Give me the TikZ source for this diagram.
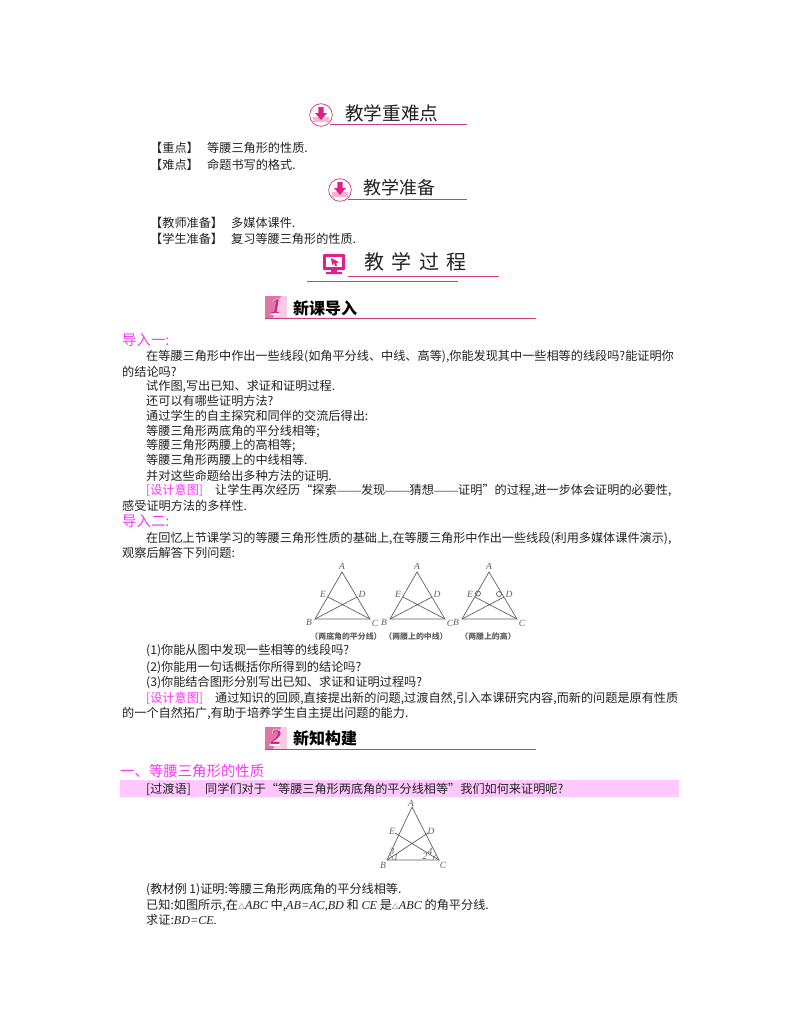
\documentclass[tikz,border=0pt]{standalone}
\usepackage{fontspec}
\setmainfont{Noto Sans CJK SC}
\newfontfamily\latinfam{Liberation Serif}
\usetikzlibrary{arrows.meta}
\definecolor{rulepink}{HTML}{D03A80}
\definecolor{iconpink}{HTML}{E0208A}
\definecolor{softpink}{HTML}{F6B5D3}
\definecolor{headpink}{HTML}{FF33FF}
\definecolor{bandpink}{HTML}{FFC8FF}
\definecolor{inktext}{HTML}{222222}
\definecolor{figgrey}{HTML}{606060}
\newcommand{\itx}[1]{{\latinfam\itshape #1}}
\newcommand{\trisym}{{\fontsize{7}{7}\selectfont △}}
\newcommand{\ldash}{{\latinfam ——}}
\tikzset{
bodytext/.style={anchor=base west,inner sep=0pt,text=inktext,font=\fontsize{12.15}{14}\selectfont},
pinkhead/.style={anchor=base west,inner sep=0pt,text=headpink,font=\fontsize{14.4}{16}\selectfont},
pinktext/.style={bodytext,text=headpink},
headrule/.style={draw=rulepink,line width=.9pt},
figline/.style={draw=figgrey,line width=.7pt},
figlabel/.style={inner sep=0pt,text=figgrey,font=\latinfam\itshape\fontsize{9.5}{10}\selectfont},
figcap/.style={inner sep=0pt,text=figgrey,font=\bfseries\fontsize{7.9}{9}\selectfont},
arrowicon/.pic={
\draw[rulepink,line width=.7pt,fill=white] (0,0) circle (11.3);
\fill[softpink] (-8,2) -- (8,2) -- (8,7) -- (-8,7) -- cycle;
\fill[iconpink] (-2.6,-8) rectangle (2.6,-2) (-6,-2) -- (6,-2) -- (0,5) -- cycle;
},
numbox/.pic={
\fill[softpink!70] (0,0) rectangle (22,22);
\fill[rulepink!70] (0,22) -- (0,0) -- (16,0) -- (8,22) -- cycle;
},
digitback/.style={inner sep=0pt,text=white,font=\latinfam\bfseries\itshape\fontsize{25}{26}\selectfont},
digitfront/.style={inner sep=0pt,text=iconpink,font=\latinfam\bfseries\itshape\fontsize{21}{22}\selectfont}
}
\begin{document}
\begin{tikzpicture}[x=1pt,y=-1pt]
\useasboundingbox[fill=white] (0,0) rectangle (800,1028);
% band behind the transition line
\fill[bandpink] (120,780) rectangle (679,797);
% teaching headings
\pic at (321,115) {arrowicon};
\node[anchor=base west,inner sep=0pt,text=inktext,font=\fontsize{18.6}{20}\selectfont] (headA) at (345,120) {教学重难点};
\draw[headrule] (330,124.5) -- (467,124.5);
\node[bodytext] (keyA) at (150,152) {【重点】};
\node[bodytext] (keyAt) at (207,152) {等腰三角形的性质.};
\node[bodytext] (keyB) at (150,169) {【难点】};
\node[bodytext] (keyBt) at (207,169) {命题书写的格式.};
\pic at (340,190) {arrowicon};
\node[anchor=base west,inner sep=0pt,text=inktext,font=\fontsize{18}{20}\selectfont] (headB) at (363,194) {教学准备};
\draw[headrule] (348,199) -- (467,199);
\node[bodytext] (prepA) at (150,227) {【教师准备】};
\node[bodytext] (prepAt) at (231,227) {多媒体课件.};
\node[bodytext] (prepB) at (150,243) {【学生准备】};
\node[bodytext] (prepBt) at (231,243) {复习等腰三角形的性质.};
% monitor icon
\fill[iconpink,rounded corners=1pt] (323,254) rectangle (345,270);
\fill[white] (326,257) rectangle (342,267);
\fill[iconpink] (331,258) -- (339,262) -- (336,263) -- (337,266) -- (335,266) -- (334,263) -- (332,265) -- cycle;
\fill[iconpink] (331,270) rectangle (337,272) (326,272) rectangle (342,274);
\node[anchor=base west,inner sep=0pt,text=inktext,font=\fontsize{20}{22}\selectfont] (headC) at (364,269) {教\hspace{7.5pt}学\hspace{7.5pt}过\hspace{7.5pt}程};
\draw[rulepink,line width=.5pt] (348,276) -- (499,276);
\draw[rulepink,line width=.5pt] (307,281) -- (458,281);
% section one
\pic at (265,296) {numbox};
\node[digitback] (numAb) at (276,307) {1};
\node[digitfront] (numA) at (276,307) {1};
\node[anchor=base west,inner sep=0pt,font=\bfseries\fontsize{16}{18}\selectfont] (headD) at (293,314) {新课导入};
\draw[rulepink,line width=.6pt] (265,318) -- (536,318);
\node[pinkhead] (introA) at (122,345) {导入一:};
\node[bodytext] (lineA) at (146,360) {在等腰三角形中作出一些线段(如角平分线、中线、高等),你能发现其中一些相等的线段吗?能证明你};
\node[bodytext] (lineB) at (122,376) {的结论吗?};
\node[bodytext] (lineC) at (146,390) {试作图,写出已知、求证和证明过程.};
\node[bodytext] (lineD) at (146,405) {还可以有哪些证明方法?};
\node[bodytext] (lineE) at (146,420) {通过学生的自主探究和同伴的交流后得出:};
\node[bodytext] (lineF) at (146,435) {等腰三角形两底角的平分线相等;};
\node[bodytext] (lineG) at (146,449) {等腰三角形两腰上的高相等;};
\node[bodytext] (lineH) at (146,464) {等腰三角形两腰上的中线相等.};
\node[bodytext] (lineI) at (146,480) {并对这些命题给出多种方法的证明.};
\node[pinktext] (aimA) at (146,494) {[设计意图]};
\node[bodytext] (lineJ) at (215,494) {让学生再次经历“探索\ldash 发现\ldash 猜想\ldash 证明”的过程,进一步体会证明的必要性,};
\node[bodytext] (lineK) at (122,510) {感受证明方法的多样性.};
\node[pinkhead] (introB) at (122,526) {导入二:};
\node[bodytext] (lineL) at (146,542) {在回忆上节课学习的等腰三角形性质的基础上,在等腰三角形中作出一些线段(利用多媒体课件演示),};
\node[bodytext] (lineM) at (122,557) {观察后解答下列问题:};
% three triangles
\foreach \n/\x in {a/0,b/75,c/147}{
\coordinate (\n A) at (342+\x,572);
\coordinate (\n B) at (315+\x,619);
\coordinate (\n C) at (370+\x,619);
\coordinate (\n E) at (328+\x,597);
\coordinate (\n D) at (357+\x,597);
\draw[figline] (\n A) -- (\n B) -- (\n C) -- cycle;
\draw[figline] (\n B) -- (\n D) (\n C) -- (\n E);
\node[figlabel] (\n Al) at (342+\x,566) {A};
\node[figlabel] (\n Bl) at (309+\x,622) {B};
\node[figlabel] (\n Cl) at (375+\x,623) {C};
\node[figlabel] (\n El) at (323+\x,594) {E};
\node[figlabel] (\n Dl) at (362+\x,594) {D};
}
\draw[figline] (478,593.5) circle (2.5) (499,594) circle (2.5);
\node[figcap] (capA) at (346,636) {（两底角的平分线）};
\node[figcap] (capB) at (416,636) {（两腰上的中线）};
\node[figcap] (capC) at (488,636) {（两腰上的高）};
\node[bodytext] (askA) at (146,654) {(1)你能从图中发现一些相等的线段吗?};
\node[bodytext] (askB) at (146,671) {(2)你能用一句话概括你所得到的结论吗?};
\node[bodytext] (askC) at (146,686) {(3)你能结合图形分别写出已知、求证和证明过程吗?};
\node[pinktext] (aimB) at (146,702) {[设计意图]};
\node[bodytext] (lineN) at (215,702) {通过知识的回顾,直接提出新的问题,过渡自然,引入本课研究内容,而新的问题是原有性质};
\node[bodytext] (lineO) at (122,717) {的一个自然拓广,有助于培养学生自主提出问题的能力.};
% section two
\pic at (265,727) {numbox};
\node[digitback] (numBb) at (276,738) {2};
\node[digitfront] (numB) at (276,738) {2};
\node[anchor=base west,inner sep=0pt,font=\bfseries\fontsize{16}{18}\selectfont] (headE) at (293,744) {新知构建};
\draw[rulepink,line width=.6pt] (265,749) -- (536,749);
\node[pinkhead] (partA) at (120,776) {一、等腰三角形的性质};
\node[bodytext] (bridgeA) at (146,793) {[过渡语]};
\node[bodytext] (bridgeB) at (205,793) {同学们对于“等腰三角形两底角的平分线相等”我们如何来证明呢?};
% proof triangle
\coordinate (pA) at (412,807);
\coordinate (pB) at (387,860);
\coordinate (pC) at (439,860);
\coordinate (pE) at (395,833);
\coordinate (pD) at (428,833);
\draw[figline] (pA) -- (pB) -- (pC) -- cycle;
\draw[figline] (pB) -- (pD) (pC) -- (pE);
\node[figlabel] (pAl) at (411,803) {A};
\node[figlabel] (pBl) at (383,865) {B};
\node[figlabel] (pCl) at (443,865) {C};
\node[figlabel] (pEl) at (392,831) {E};
\node[figlabel] (pDl) at (431,831) {D};
\node[figlabel] (mkA) at (396,857) {1};
\node[figlabel] (mkB) at (425,856) {2};
\node[figlabel] (mkC) at (392,851) {3};
\node[figlabel] (mkD) at (430,851) {4};
\draw[figline,line width=.4pt] ([shift={(6,0)}]pB) arc (0:-60:6) ([shift={(-6,0)}]pC) arc (180:240:6);
\node[bodytext] (proofA) at (146,893) {(教材例 1)证明:等腰三角形两底角的平分线相等.};
\node[bodytext] (proofB) at (146,909) {已知:如图所示,在\trisym\itx{ABC} 中,\itx{AB=AC,BD} 和 \itx{CE} 是\trisym\itx{ABC} 的角平分线.};
\node[bodytext] (proofC) at (146,924) {求证:\itx{BD=CE.}};
\end{tikzpicture}
\end{document}
